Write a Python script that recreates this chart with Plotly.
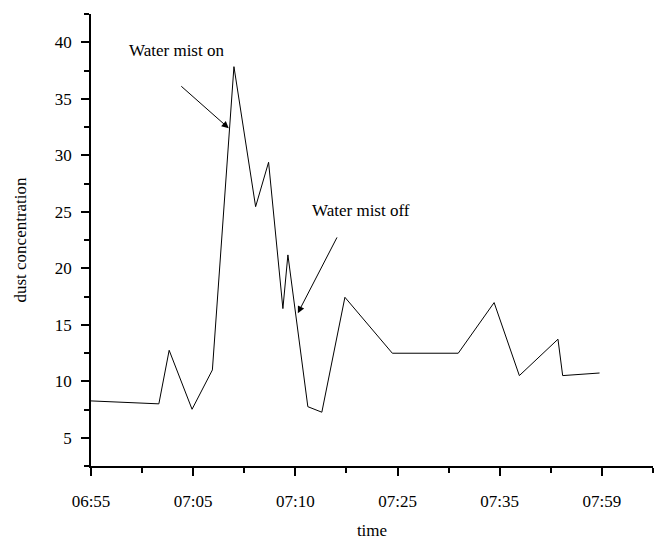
import plotly.graph_objects as go

# data (x in label-spacing units; labels at integer positions)
x_pos = [0.0, 0.664, 0.765, 0.989, 1.188, 1.399, 1.611, 1.738, 1.878, 1.927,
         2.122, 2.259, 2.485, 2.949, 3.594, 3.945, 4.192, 4.570, 4.616, 4.977]
dust = [8.26, 8.0, 12.74, 7.52, 11.0, 37.84, 25.45, 29.38, 16.43, 21.18,
        7.75, 7.26, 17.43, 12.48, 12.48, 16.96, 10.5, 13.72, 10.5, 10.73]
tick_pos = [0, 1, 2, 3, 4, 5]
tick_labels = ["06:55", "07:05", "07:10", "07:25", "07:35", "07:59"]

FONT = "Liberation Serif, Times New Roman, serif"

fig = go.Figure()
fig.add_trace(go.Scatter(x=x_pos, y=dust, mode="lines",
                         line=dict(color="black", width=1), showlegend=False,
                         hoverinfo="skip"))

fig.update_layout(
    width=660, height=541,
    margin=dict(l=91, r=7, t=14, b=75),
    plot_bgcolor="white", paper_bgcolor="white",
    font=dict(family=FONT, size=17, color="black"),
    annotations=[
        dict(x=1.348, y=32.39, ax=0.869, ay=36.22, xref="x", yref="y",
             axref="x", ayref="y", showarrow=True, arrowhead=2, arrowsize=1.4,
             arrowwidth=1, arrowcolor="black", text=""),
        dict(x=0.84, y=39.3, xref="x", yref="y", text="Water mist on",
             showarrow=False, font=dict(family=FONT, size=17)),
        dict(x=2.024, y=16.02, ax=2.415, ay=22.86, xref="x", yref="y",
             axref="x", ayref="y", showarrow=True, arrowhead=2, arrowsize=1.4,
             arrowwidth=1, arrowcolor="black", text=""),
        dict(x=2.646, y=25.07, xref="x", yref="y", text="Water mist off",
             showarrow=False, font=dict(family=FONT, size=17)),
    ],
)

fig.update_xaxes(
    range=[0, 5.5], showgrid=False, zeroline=False, automargin=False,
    showline=True, linecolor="black", linewidth=1.5,
    tickmode="array", tickvals=tick_pos, ticktext=tick_labels,
    ticks="outside", ticklen=8, tickwidth=1.5, tickcolor="black",
    minor=dict(ticks="outside", ticklen=5, tickwidth=1.5, tickcolor="black",
               tickmode="array", tickvals=[0.5, 1.5, 2.5, 3.5, 4.5, 5.5]),
    title=dict(text="time", font=dict(size=17), standoff=14),
    tickfont=dict(size=17),
    ticklabelstandoff=11,
)
fig.update_yaxes(
    range=[2.5, 42.5], showgrid=False, zeroline=False, automargin=False,
    showline=True, linecolor="black", linewidth=1.5,
    tick0=5, dtick=5,
    ticks="outside", ticklen=8, tickwidth=1.5, tickcolor="black",
    minor=dict(ticks="outside", ticklen=5, tickwidth=1.5, tickcolor="black",
               dtick=2.5, tick0=2.5),
    title=dict(text="dust concentration", font=dict(size=17), standoff=24),
    tickfont=dict(size=17),
    ticklabelstandoff=6,
)

fig.write_html("out.html")
